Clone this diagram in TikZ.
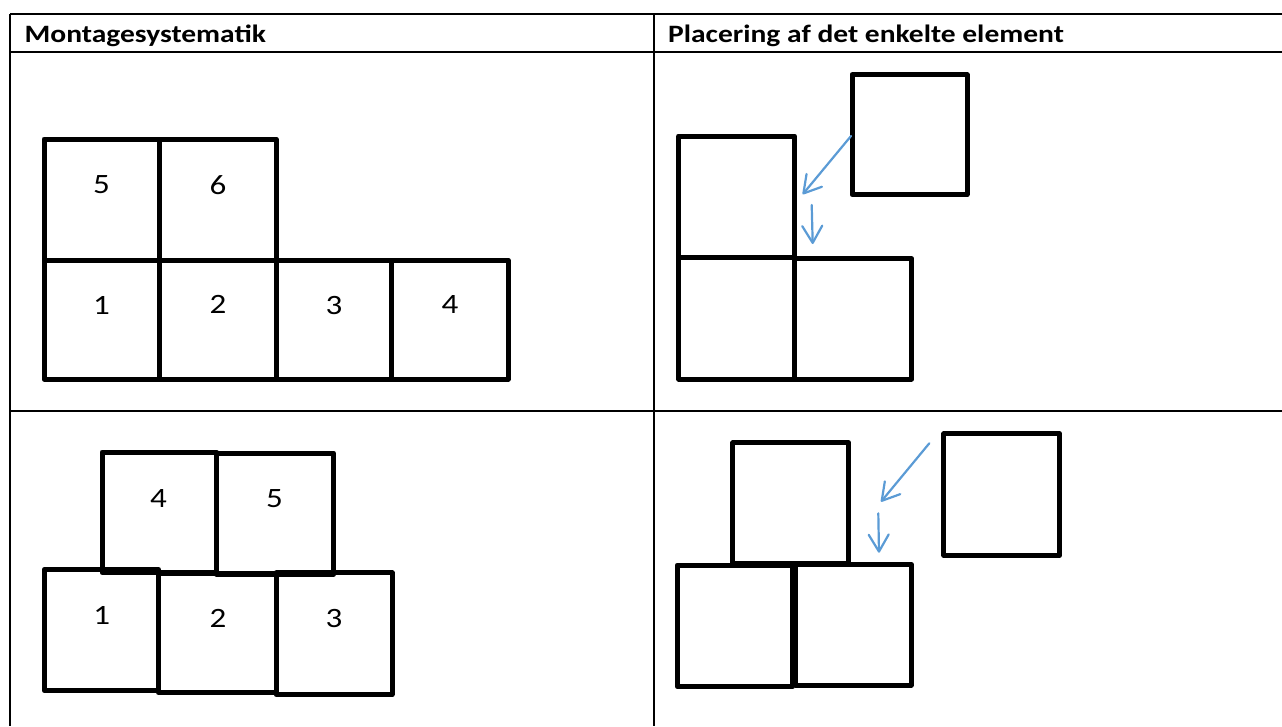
\documentclass[tikz,border=0pt]{standalone}
\usepackage{fontspec}
\setmainfont{Carlito}[FakeStretch=1.18]
\usetikzlibrary{arrows.meta}
\definecolor{arrowblue}{HTML}{5B9BD5}
\newcommand\mkblk[5]{\node[blk, minimum width={(#4-#2)*1pt}, minimum height={(#5-#3)*1pt}] (#1) at ({(#2+#4)/2},{(#3+#5)/2}) {};}
\tikzset{
  gridline/.style={line width=1.6pt, black},
  blk/.style={draw=black, line width=5pt, line join=round, rectangle, inner sep=0pt, outer sep=0pt, fill=none},
  num/.style={font=\fontsize{28}{32}\selectfont, inner sep=0pt, anchor=center},
  head/.style={font=\fontsize{25}{30}\selectfont\bfseries, inner sep=0pt, anchor=base west},
  arr/.style={draw=arrowblue, line width=2.2pt, line cap=round, -{Straight Barb[length=17pt, width=20pt, round]}}
}
\begin{document}
\begin{tikzpicture}[x=1pt, y=-1pt]
\useasboundingbox (0,0) rectangle (1282,726);
% table
\coordinate (tl) at (10,14);
\coordinate (tr) at (1282,14);
\coordinate (hl) at (10,51.7);
\coordinate (hr) at (1282,51.7);
\coordinate (rl) at (10,411);
\coordinate (rr) at (1282,411);
\coordinate (bl) at (10,726);
\coordinate (ct) at (654,14);
\coordinate (cb) at (654,726);
\draw[gridline] (tl) -- (tr);
\draw[gridline] (hl) -- (hr);
\draw[gridline] (rl) -- (rr);
\draw[gridline] (tl) -- (bl);
\draw[gridline] (ct) -- (cb);
\node[head] (h1) at (24.5,42.7) {Montagesystematik};
\node[head] (h2) at (668,42.7) {Placering af det enkelte element};
% top-left
\mkblk{b5}{44}{139}{159.5}{260}
\mkblk{b6}{159.5}{139}{276}{260}
\mkblk{b1}{44}{260}{159.5}{379}
\mkblk{b2}{159.5}{260}{276}{379}
\mkblk{b3}{276}{260}{391.5}{379}
\mkblk{b4}{391.5}{260}{508}{379}
\node[num] (n5) at (101.5,185) {5};
\node[num] (n6) at (218,185) {6};
\node[num] (n1) at (101.5,305) {1};
\node[num] (n2) at (218,304.5) {2};
\node[num] (n3) at (334,305.5) {3};
\node[num] (n4) at (450,304.5) {4};
% top-right
\mkblk{pa}{678.7}{136}{794.7}{257}
\mkblk{pb}{852}{74.7}{967}{194.7}
\mkblk{pc}{678.7}{257}{794.7}{379}
\mkblk{pd}{794.7}{258.7}{911.7}{379}
\coordinate (a1s) at (851,136);
\coordinate (a1e) at (802.7,194.3);
\coordinate (a2s) at (811.7,205);
\coordinate (a2e) at (812.7,244);
\draw[arr] (a1s) -- (a1e);
\draw[arr] (a2s) -- (a2e);
% bottom-left
\mkblk{c1}{44.2}{569.5}{158.5}{690.5}
\mkblk{c2}{158.5}{573}{276}{692.5}
\mkblk{c3}{276}{572.8}{392}{694.5}
\mkblk{c4}{102}{452}{216.5}{572.7}
\mkblk{c5}{216.5}{453}{333.5}{574.3}
\node[num] (m4) at (158.5,498.5) {4};
\node[num] (m5) at (274.5,499) {5};
\node[num] (m1) at (101.8,615) {1};
\node[num] (m2) at (217.9,618) {2};
\node[num] (m3) at (334,618.5) {3};
% bottom-right
\mkblk{qe}{732.8}{442.8}{848.7}{563.3}
\mkblk{qf}{677.2}{565}{792.7}{686.7}
\mkblk{qg}{795.3}{564.7}{911.3}{685}
\mkblk{qh}{943.8}{433.8}{1059.5}{555.3}
\coordinate (b1s) at (929.3,443.3);
\coordinate (b1e) at (881,501.7);
\coordinate (b2s) at (878.3,513.3);
\coordinate (b2e) at (879,552.7);
\draw[arr] (b1s) -- (b1e);
\draw[arr] (b2s) -- (b2e);
\end{tikzpicture}
\end{document}
